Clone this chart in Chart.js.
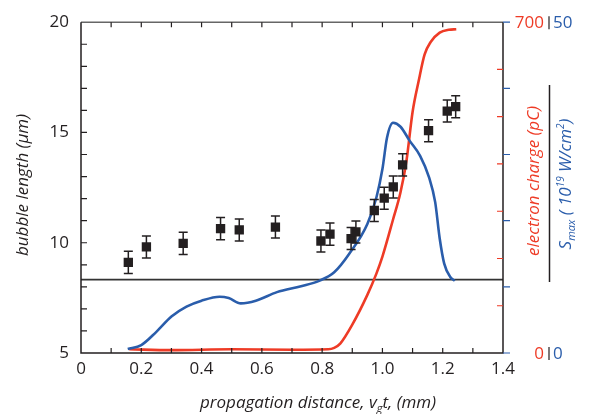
<!DOCTYPE html>
<html>
<head>
<meta charset="utf-8">
<script src="https://cdn.jsdelivr.net/npm/chart.js@4.4.1/dist/chart.umd.min.js"></script>
<style>
  html, body { margin: 0; padding: 0; background: #fff; }
  #wrap { width: 599px; height: 414px; position: relative; }
</style>
</head>
<body>
<div id="wrap"><canvas id="chart"></canvas></div>
<script>
// bubble length measurements (um) with error bars
const pointDist = [0.157, 0.217, 0.339, 0.463, 0.525, 0.645, 0.796, 0.826, 0.896, 0.912, 0.973, 1.006, 1.036, 1.067, 1.153, 1.215, 1.243];
const bubbleLength = [9.11, 9.81, 9.97, 10.64, 10.58, 10.71, 10.08, 10.39, 10.19, 10.49, 11.46, 12.02, 12.53, 13.53, 15.08, 15.97, 16.17];
const bubbleErr = [0.5, 0.5, 0.5, 0.5, 0.5, 0.5, 0.5, 0.5, 0.5, 0.5, 0.5, 0.5, 0.5, 0.5, 0.5, 0.5, 0.5];

// S_max (10^19 W/cm^2), blue curve
const intensityDist = [0.155, 0.20, 0.25, 0.30, 0.35, 0.40, 0.46, 0.49, 0.53, 0.58, 0.65, 0.73, 0.79, 0.84, 0.89, 0.95, 0.98, 1.00, 1.015, 1.035, 1.06, 1.09, 1.125, 1.155, 1.175, 1.19, 1.205, 1.225, 1.24];
const intensity = [0.6, 1.2, 3.2, 5.5, 7.0, 7.9, 8.5, 8.3, 7.5, 7.9, 9.2, 10.1, 10.9, 12.2, 15.0, 19.5, 23.5, 27.8, 32.5, 34.8, 34.2, 32.1, 29.8, 26.5, 22.8, 17.3, 13.5, 11.5, 10.9];

// electron charge (pC), red curve
const chargeDist = [0.16, 0.30, 0.50, 0.70, 0.82, 0.84, 0.86, 0.90, 0.95, 0.98, 1.00, 1.035, 1.06, 1.08, 1.10, 1.12, 1.14, 1.16, 1.19, 1.22, 1.245];
const charge = [8, 6, 8, 7, 8, 11, 20, 60, 123, 168, 204, 282, 340, 408, 510, 575, 632, 658, 678, 684, 685];

const thresholdLength = 8.33;

const distTicks = [0, 0.2, 0.4, 0.6, 0.8, 1.0, 1.2, 1.4];
const distTickLabels = ['0', '0.2', '0.4', '0.6', '0.8', '1.0', '1.2', '1.4'];
const lengthTicks = [5, 10, 15, 20];
const chargeRange = [0, 700];
const intensityRange = [0, 50];

const RED = '#ee3b26';
const BLUE = '#2a5dab';
const INK = '#231f20';
const FONT = '"Open Sans", "Liberation Sans", sans-serif';

function drawRich(ctx, parts, cx, cy) {
  let total = 0;
  parts.forEach(p => {
    ctx.font = `italic ${p.size}px ${FONT}`;
    p.w = ctx.measureText(p.t).width;
    total += p.w;
  });
  let px = cx - total / 2;
  parts.forEach(p => {
    ctx.font = `italic ${p.size}px ${FONT}`;
    ctx.fillText(p.t, px, cy + (p.dy || 0));
    px += p.w;
  });
}

const errorBars = {
  id: 'errorBars',
  beforeDatasetDraw(chart, args) {
    if (args.index !== 0) return;
    const { ctx, scales: { x, y } } = chart;
    ctx.save();
    ctx.strokeStyle = INK;
    ctx.lineWidth = 1.5;
    pointDist.forEach((d, i) => {
      const px = x.getPixelForValue(d);
      const yTop = y.getPixelForValue(bubbleLength[i] + bubbleErr[i]);
      const yBot = y.getPixelForValue(bubbleLength[i] - bubbleErr[i]);
      ctx.beginPath();
      ctx.moveTo(px, yTop); ctx.lineTo(px, yBot);
      ctx.moveTo(px - 4.5, yTop); ctx.lineTo(px + 4.5, yTop);
      ctx.moveTo(px - 4.5, yBot); ctx.lineTo(px + 4.5, yBot);
      ctx.stroke();
    });
    ctx.restore();
  }
};

const decorations = {
  id: 'decorations',
  afterDraw(chart) {
    const { ctx, chartArea: { left, right, top, bottom }, scales: { x, y, yQ, yS } } = chart;
    ctx.save();

    // frame
    ctx.lineWidth = 1.5;
    ctx.strokeStyle = '#666';
    ctx.beginPath(); ctx.moveTo(left, top); ctx.lineTo(right, top); ctx.stroke();
    ctx.strokeStyle = INK;
    ctx.beginPath();
    ctx.moveTo(left, top); ctx.lineTo(left, bottom); ctx.lineTo(right, bottom); ctx.lineTo(right, top);
    ctx.stroke();

    // inward minor ticks
    ctx.lineWidth = 1.2;
    ctx.beginPath();
    for (let v = 0.1; v < 1.4; v += 0.1) {
      const px = x.getPixelForValue(v);
      ctx.moveTo(px, bottom); ctx.lineTo(px, bottom - 5);
      ctx.moveTo(px, top); ctx.lineTo(px, top + 5);
    }
    for (let v = 6; v < 20; v += 1) {
      const py = y.getPixelForValue(v);
      ctx.moveTo(left, py); ctx.lineTo(left + 6, py);
    }
    ctx.stroke();

    // red charge ticks (inward) and blue intensity ticks (outward)
    ctx.strokeStyle = RED;
    ctx.beginPath();
    for (let v = 100; v < 700; v += 100) {
      const py = yQ.getPixelForValue(v);
      ctx.moveTo(right, py); ctx.lineTo(right - 6, py);
    }
    ctx.stroke();
    ctx.strokeStyle = BLUE;
    ctx.beginPath();
    for (let v = 0; v <= 50; v += 10) {
      const py = yS.getPixelForValue(v);
      ctx.moveTo(right, py); ctx.lineTo(right + 7, py);
    }
    ctx.stroke();

    // right axis end labels
    ctx.font = `17px ${FONT}`;
    ctx.textBaseline = 'middle';
    [0, 1].forEach(i => {
      const py = yQ.getPixelForValue(chargeRange[i]);
      ctx.fillStyle = RED; ctx.textAlign = 'right';
      ctx.fillText(String(chargeRange[i]), 544, py + 1);
      ctx.fillStyle = BLUE; ctx.textAlign = 'left';
      ctx.fillText(String(intensityRange[i]), 553, py + 1);
      ctx.strokeStyle = INK; ctx.lineWidth = 1.2;
      ctx.beginPath(); ctx.moveTo(549, py - 6); ctx.lineTo(549, py + 7); ctx.stroke();
    });

    // separator between right titles
    ctx.strokeStyle = INK; ctx.lineWidth = 1.5;
    ctx.beginPath(); ctx.moveTo(549.5, 85); ctx.lineTo(549.5, 282); ctx.stroke();

    // titles
    ctx.textBaseline = 'alphabetic';
    ctx.textAlign = 'left';
    ctx.fillStyle = INK;
    drawRich(ctx, [
      { t: 'propagation distance, v', size: 17 },
      { t: 'g', size: 11, dy: 4 },
      { t: 't, (mm)', size: 17 }
    ], 318, 408);

    ctx.save();
    ctx.translate(28, 185); ctx.rotate(-Math.PI / 2);
    drawRich(ctx, [{ t: 'bubble length (\u03bcm)', size: 17 }], 0, 0);
    ctx.restore();

    ctx.save();
    ctx.fillStyle = RED;
    ctx.translate(539, 181); ctx.rotate(-Math.PI / 2);
    drawRich(ctx, [{ t: 'electron charge (pC)', size: 17 }], 0, 0);
    ctx.restore();

    ctx.save();
    ctx.fillStyle = BLUE;
    ctx.translate(571, 184); ctx.rotate(-Math.PI / 2);
    drawRich(ctx, [
      { t: 'S', size: 17 },
      { t: 'max', size: 11, dy: 4 },
      { t: ' ( 10', size: 17 },
      { t: '19', size: 10, dy: -7 },
      { t: ' W/cm', size: 17 },
      { t: '2', size: 10, dy: -7 },
      { t: ')', size: 17 }
    ], 0, 0);
    ctx.restore();

    ctx.restore();
  }
};

new Chart(document.getElementById('chart'), {
  type: 'line',
  data: {
    datasets: [
      {
        label: 'bubble length',
        data: pointDist.map((d, i) => ({ x: d, y: bubbleLength[i] })),
        yAxisID: 'y',
        showLine: false,
        pointStyle: 'rect',
        pointRadius: 6.6,
        backgroundColor: INK,
        borderColor: INK,
        borderWidth: 0
      },
      {
        label: 'S_max',
        data: intensityDist.map((d, i) => ({ x: d, y: intensity[i] })),
        yAxisID: 'yS',
        borderColor: BLUE,
        borderWidth: 2.6,
        pointRadius: 0,
        cubicInterpolationMode: 'monotone'
      },
      {
        label: 'electron charge',
        data: chargeDist.map((d, i) => ({ x: d, y: charge[i] })),
        yAxisID: 'yQ',
        borderColor: RED,
        borderWidth: 2.6,
        pointRadius: 0,
        cubicInterpolationMode: 'monotone'
      },
      {
        label: 'threshold',
        data: [{ x: 0, y: thresholdLength }, { x: 1.4, y: thresholdLength }],
        yAxisID: 'y',
        borderColor: '#333',
        borderWidth: 1.8,
        pointRadius: 0
      }
    ]
  },
  options: {
    responsive: true,
    maintainAspectRatio: false,
    animation: false,
    layout: { padding: { top: 17, right: 96, left: 0, bottom: 0 } },
    plugins: { legend: { display: false }, tooltip: { enabled: false } },
    scales: {
      x: {
        type: 'linear', min: 0, max: 1.4,
        grid: { display: false, drawTicks: false },
        border: { display: false },
        afterBuildTicks: s => { s.ticks = distTicks.map(v => ({ value: v })); },
        afterFit: s => { s.height = 61; },
        ticks: {
          autoSkip: false, maxRotation: 0, padding: 6, color: INK,
          font: { family: FONT, size: 17 },
          callback: (v, i) => distTickLabels[i]
        }
      },
      y: {
        position: 'left', min: 5, max: 20,
        grid: { display: false, drawTicks: false },
        border: { display: false },
        afterBuildTicks: s => { s.ticks = lengthTicks.map(v => ({ value: v })); },
        afterFit: s => { s.width = 81; },
        ticks: {
          autoSkip: false, padding: 12, color: INK,
          font: { family: FONT, size: 17 }
        }
      },
      yQ: { display: false, min: chargeRange[0], max: chargeRange[1] },
      yS: { display: false, min: intensityRange[0], max: intensityRange[1] }
    }
  },
  plugins: [errorBars, decorations]
});
</script>
</body>
</html>
